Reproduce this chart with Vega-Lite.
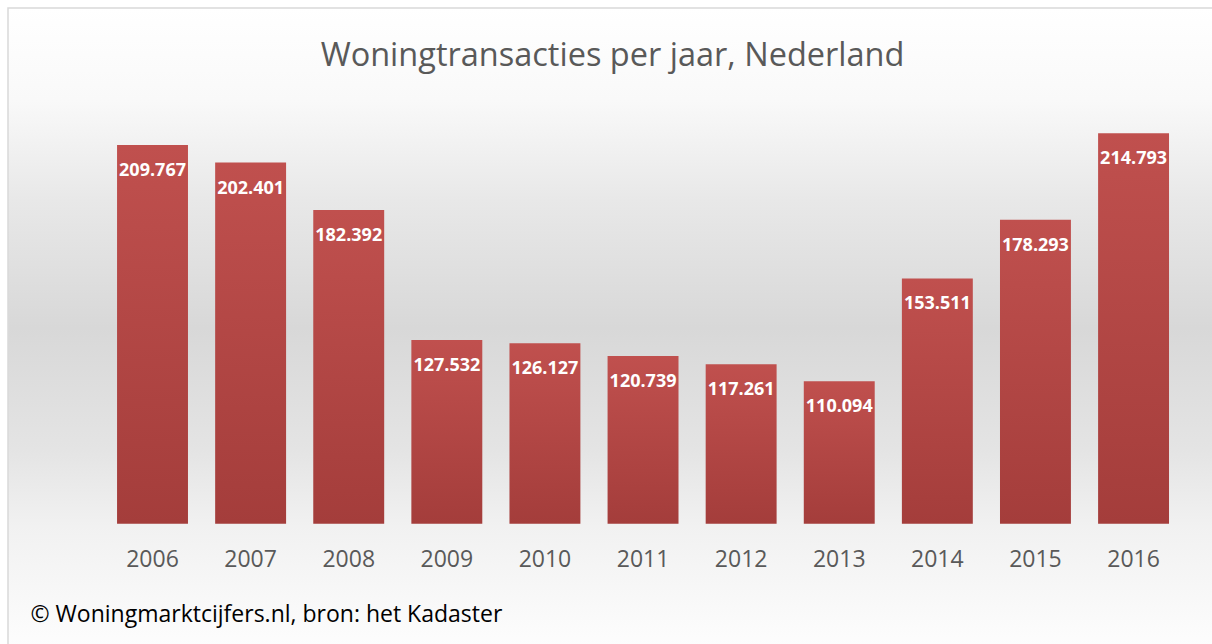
{
  "$schema": "https://vega.github.io/schema/vega-lite/v6.json",
  "autosize": {"type": "none"},
  "padding": {"left": 8, "top": 8, "right": 0, "bottom": 0},
  "width": 1206,
  "height": 640,
  "background": "#ffffff",
  "config": {
    "locale": {"number": {"decimal": ",", "thousands": ".", "grouping": [3], "currency": ["€", ""]}},
    "view": {
      "stroke": "#d9d9d9",
      "strokeWidth": 1.5,
      "fill": {
        "gradient": "linear", "x1": 0, "y1": 0, "x2": 0, "y2": 1,
        "stops": [
          {"offset": 0, "color": "#ffffff"},
          {"offset": 0.144, "color": "#f9f9f9"},
          {"offset": 0.3, "color": "#e8e8e8"},
          {"offset": 0.5, "color": "#d8d8d8"},
          {"offset": 0.69, "color": "#e4e4e4"},
          {"offset": 0.81, "color": "#f1f1f1"},
          {"offset": 1, "color": "#fdfdfd"}
        ]
      }
    },
    "font": "Open Sans"
  },
  "title": {
    "text": "Woningtransacties per jaar, Nederland",
    "font": "Open Sans",
    "fontSize": 32.5,
    "fontWeight": "normal",
    "color": "#595959",
    "anchor": "middle",
    "baseline": "alphabetic",
    "offset": -90,
    "dx": 1.5
  },
  "data": {
    "values": [
      {"jaar": "2006", "transacties": 209767},
      {"jaar": "2007", "transacties": 202401},
      {"jaar": "2008", "transacties": 182392},
      {"jaar": "2009", "transacties": 127532},
      {"jaar": "2010", "transacties": 126127},
      {"jaar": "2011", "transacties": 120739},
      {"jaar": "2012", "transacties": 117261},
      {"jaar": "2013", "transacties": 110094},
      {"jaar": "2014", "transacties": 153511},
      {"jaar": "2015", "transacties": 178293},
      {"jaar": "2016", "transacties": 214793}
    ]
  },
  "encoding": {
    "x": {
      "field": "jaar",
      "type": "ordinal",
      "sort": null,
      "scale": {"paddingInner": 0.277, "paddingOuter": 0.785, "align": 0.708},
      "axis": {
        "title": "© Woningmarktcijfers.nl, bron: het Kadaster",
        "titleFont": "Open Sans",
        "titleFontSize": 23,
        "titleFontWeight": "normal",
        "titleColor": "#000000",
        "titleAnchor": "start",
        "titleAlign": "left",
        "titleBaseline": "alphabetic",
        "titleX": 22,
        "titleY": 98,
        "labelAngle": 0,
        "labelFont": "Open Sans",
        "labelFontSize": 23,
        "labelColor": "#595959",
        "labelBaseline": "alphabetic",
        "labelPadding": 42.3,
        "domain": false,
        "ticks": false,
        "tickSize": 0,
        "grid": false,
        "offset": -124.3
      }
    },
    "y": {
      "field": "transacties",
      "type": "quantitative",
      "scale": {"domain": [-2450, 267600], "nice": false, "zero": false},
      "axis": null
    }
  },
  "layer": [
    {
      "mark": {
        "type": "bar",
        "color": {
          "gradient": "linear", "x1": 0, "y1": 0, "x2": 0, "y2": 1,
          "stops": [
            {"offset": 0, "color": "#c0504e"},
            {"offset": 1, "color": "#a43d3b"}
          ]
        }
      },
      "encoding": {
        "y2": {"datum": 50000}
      }
    },
    {
      "mark": {
        "type": "text",
        "font": "Open Sans",
        "fontSize": 18,
        "fontWeight": "bold",
        "color": "#ffffff",
        "baseline": "middle",
        "align": "center",
        "dy": 26
      },
      "encoding": {
        "text": {"field": "transacties", "type": "quantitative", "format": ","}
      }
    }
  ]
}
